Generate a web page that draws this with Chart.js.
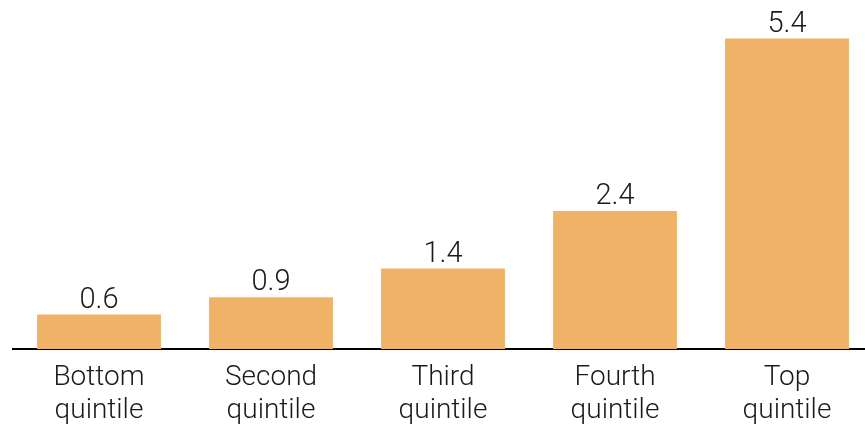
<!DOCTYPE html>
<html>
<head>
<meta charset="utf-8">
<script src="https://cdn.jsdelivr.net/npm/chart.js@4/dist/chart.umd.min.js"></script>
<style>
  html, body { margin: 0; padding: 0; background: #fff; overflow: hidden; }
  #wrap { position: relative; width: 873px; height: 428px; }
</style>
</head>
<body>
<div id="wrap"><canvas id="c"></canvas></div>
<script>
// Income quintiles and their values
const categories = [["Bottom", "quintile"], ["Second", "quintile"], ["Third", "quintile"], ["Fourth", "quintile"], ["Top", "quintile"]];
const values = [0.6, 0.9, 1.4, 2.4, 5.4];

const FONT = "Roboto, 'Liberation Sans', sans-serif";
const TEXT = "#1a1a1a";

// Writes each bar's value just above it
const valueLabels = {
  id: "valueLabels",
  afterDatasetsDraw(chart) {
    const ctx = chart.ctx;
    const meta = chart.getDatasetMeta(0);
    ctx.save();
    ctx.font = "300 29px " + FONT;
    ctx.fillStyle = TEXT;
    ctx.textAlign = "center";
    ctx.textBaseline = "alphabetic";
    meta.data.forEach((bar, i) => {
      ctx.fillText(values[i].toFixed(1), bar.x, bar.y - 7);
    });
    ctx.restore();
  }
};

new Chart(document.getElementById("c"), {
  type: "bar",
  data: {
    labels: categories,
    datasets: [{
      data: values,
      backgroundColor: "#F0B266",
      borderWidth: 0,
      categoryPercentage: 1.0,
      barPercentage: 0.72
    }]
  },
  options: {
    responsive: true,
    maintainAspectRatio: false,
    animation: false,
    layout: { padding: { left: 13, right: 0, top: 4, bottom: 0 } },
    plugins: { legend: { display: false }, tooltip: { enabled: false } },
    scales: {
      x: {
        grid: { display: false, drawTicks: false },
        border: { display: true, color: "#000", width: 2 },
        ticks: {
          color: TEXT,
          font: { family: FONT, size: 28, weight: 300, lineHeight: 1.18 },
          padding: 12,
          maxRotation: 0,
          autoSkip: false
        },
        afterFit(scale) { scale.height = 79; }
      },
      y: {
        display: false,
        min: 0,
        max: 6
      }
    }
  },
  plugins: [valueLabels]
});
</script>
</body>
</html>
